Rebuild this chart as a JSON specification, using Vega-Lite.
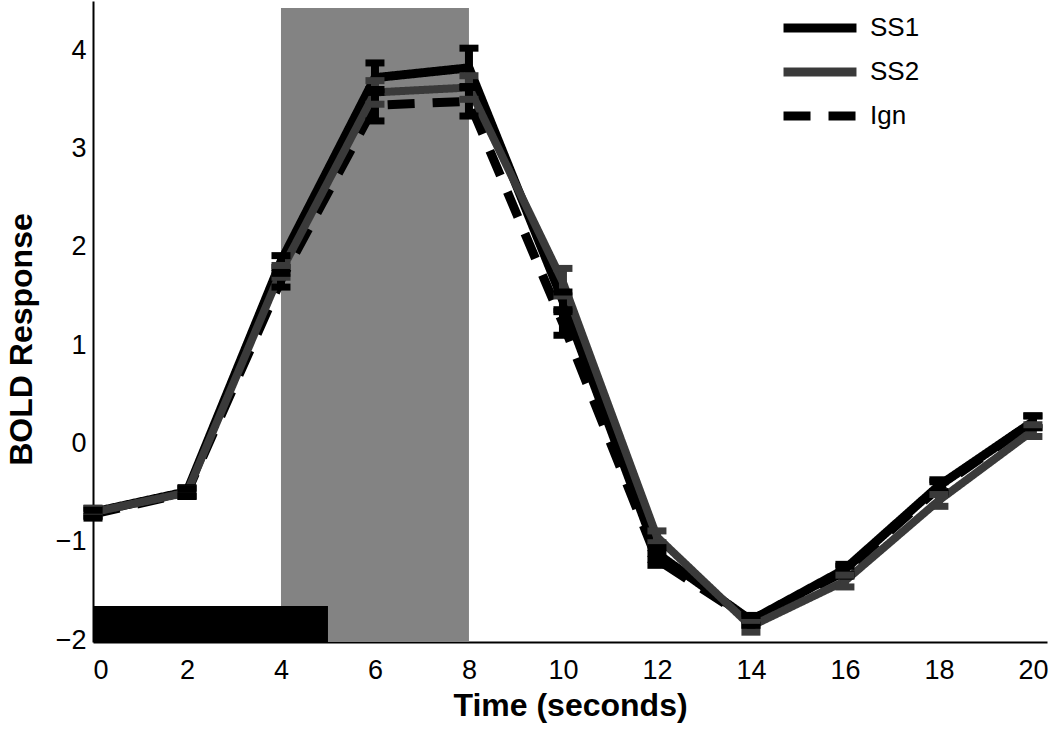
{
  "$schema": "https://vega.github.io/schema/vega-lite/v6.json",
  "width": 954,
  "height": 641,
  "autosize": "none",
  "padding": {"left": 93, "top": 1, "right": 3, "bottom": 103},
  "background": "white",
  "config": {
    "view": {"stroke": null},
    "font": "Liberation Sans",
    "axis": {"grid": false, "domainColor": "black", "domainWidth": 2, "ticks": false, "tickSize": 0, "labelColor": "black", "labelFont": "Liberation Sans", "labelFontSize": 27, "titleFont": "Liberation Sans", "titleFontSize": 32, "titleFontWeight": "bold", "titleColor": "black", "format": "d"}
  },
  "datasets": {
    "resp": [
      {"t": 0, "series": "SS1", "v": -0.70, "lo": -0.74, "hi": -0.66},
      {"t": 2, "series": "SS1", "v": -0.49, "lo": -0.53, "hi": -0.45},
      {"t": 4, "series": "SS1", "v": 1.85, "lo": 1.79, "hi": 1.91},
      {"t": 6, "series": "SS1", "v": 3.72, "lo": 3.57, "hi": 3.87},
      {"t": 8, "series": "SS1", "v": 3.82, "lo": 3.62, "hi": 4.02},
      {"t": 10, "series": "SS1", "v": 1.45, "lo": 1.36, "hi": 1.54},
      {"t": 12, "series": "SS1", "v": -1.12, "lo": -1.18, "hi": -1.06},
      {"t": 14, "series": "SS1", "v": -1.80, "lo": -1.85, "hi": -1.75},
      {"t": 16, "series": "SS1", "v": -1.28, "lo": -1.33, "hi": -1.23},
      {"t": 18, "series": "SS1", "v": -0.43, "lo": -0.49, "hi": -0.37},
      {"t": 20, "series": "SS1", "v": 0.22, "lo": 0.16, "hi": 0.28},
      {"t": 0, "series": "SS2", "v": -0.70, "lo": -0.74, "hi": -0.66},
      {"t": 2, "series": "SS2", "v": -0.50, "lo": -0.54, "hi": -0.46},
      {"t": 4, "series": "SS2", "v": 1.75, "lo": 1.69, "hi": 1.81},
      {"t": 6, "series": "SS2", "v": 3.57, "lo": 3.45, "hi": 3.69},
      {"t": 8, "series": "SS2", "v": 3.62, "lo": 3.50, "hi": 3.74},
      {"t": 10, "series": "SS2", "v": 1.64, "lo": 1.50, "hi": 1.78},
      {"t": 12, "series": "SS2", "v": -0.95, "lo": -1.01, "hi": -0.89},
      {"t": 14, "series": "SS2", "v": -1.86, "lo": -1.92, "hi": -1.80},
      {"t": 16, "series": "SS2", "v": -1.40, "lo": -1.46, "hi": -1.34},
      {"t": 18, "series": "SS2", "v": -0.58, "lo": -0.64, "hi": -0.52},
      {"t": 20, "series": "SS2", "v": 0.13, "lo": 0.07, "hi": 0.19},
      {"t": 0, "series": "Ign", "v": -0.72, "lo": -0.76, "hi": -0.68},
      {"t": 2, "series": "Ign", "v": -0.50, "lo": -0.54, "hi": -0.46},
      {"t": 4, "series": "Ign", "v": 1.66, "lo": 1.59, "hi": 1.73},
      {"t": 6, "series": "Ign", "v": 3.44, "lo": 3.28, "hi": 3.60},
      {"t": 8, "series": "Ign", "v": 3.48, "lo": 3.33, "hi": 3.63},
      {"t": 10, "series": "Ign", "v": 1.22, "lo": 1.10, "hi": 1.34},
      {"t": 12, "series": "Ign", "v": -1.18, "lo": -1.24, "hi": -1.12},
      {"t": 14, "series": "Ign", "v": -1.80, "lo": -1.85, "hi": -1.75},
      {"t": 16, "series": "Ign", "v": -1.30, "lo": -1.35, "hi": -1.25},
      {"t": 18, "series": "Ign", "v": -0.45, "lo": -0.51, "hi": -0.39},
      {"t": 20, "series": "Ign", "v": 0.22, "lo": 0.16, "hi": 0.28}
    ],
    "shade": [{"x1": 4, "x2": 8, "y1": -2.02, "y2": 4.43}],
    "stim": [{"x1": 0, "x2": 5, "y1": -2.02, "y2": -1.655}]
  },
  "layer": [
    {
      "data": {"name": "shade"},
      "mark": {"type": "rect", "color": "#838383"},
      "encoding": {
        "x": {"field": "x1", "type": "quantitative", "scale": {"domain": [0, 20.3], "nice": false, "zero": false},
              "axis": {"values": [0, 2, 4, 6, 8, 10, 12, 14, 16, 18, 20], "title": "Time (seconds)", "labelPadding": 15, "titleBaseline": "alphabetic", "titleY": 73}},
        "x2": {"field": "x2"},
        "y": {"field": "y1", "type": "quantitative", "scale": {"domain": [-2.02, 4.5], "nice": false, "zero": false},
              "axis": {"values": [-2, -1, 0, 1, 2, 3, 4], "title": "BOLD Response", "labelPadding": 7, "titleBaseline": "alphabetic", "titleX": -62, "titleY": 338}},
        "y2": {"field": "y2"}
      }
    },
    {
      "data": {"name": "resp"},
      "transform": [{"filter": "datum.series === 'Ign'"}],
      "mark": {"type": "line", "strokeWidth": 9, "strokeCap": "butt"},
      "encoding": {
        "x": {"field": "t", "type": "quantitative"},
        "y": {"field": "v", "type": "quantitative"},
        "color": {"field": "series", "type": "nominal", "scale": {"domain": ["SS1", "SS2", "Ign"], "range": ["#000000", "#3a3a3a", "#000000"]},
                  "legend": {"title": null, "orient": "none", "legendX": 714, "legendY": 14, "padding": 0, "symbolType": "M-5,0H5", "symbolSize": 213, "symbolStrokeWidth": 9, "labelFontSize": 26, "labelFont": "Liberation Sans", "labelColor": "black", "labelOffset": 37, "rowPadding": 8}},
        "strokeDash": {"field": "series", "type": "nominal", "scale": {"domain": ["SS1", "SS2", "Ign"], "range": [[1, 0], [1, 0], [27, 18]]}}
      }
    },
    {
      "data": {"name": "resp"},
      "transform": [{"filter": "datum.series === 'SS1'"}],
      "mark": {"type": "line", "strokeWidth": 9},
      "encoding": {
        "x": {"field": "t", "type": "quantitative"},
        "y": {"field": "v", "type": "quantitative"},
        "color": {"field": "series", "type": "nominal"},
        "strokeDash": {"field": "series", "type": "nominal"}
      }
    },
    {
      "data": {"name": "resp"},
      "transform": [{"filter": "datum.series === 'SS2'"}],
      "mark": {"type": "line", "strokeWidth": 8},
      "encoding": {
        "x": {"field": "t", "type": "quantitative"},
        "y": {"field": "v", "type": "quantitative"},
        "color": {"field": "series", "type": "nominal"},
        "strokeDash": {"field": "series", "type": "nominal"}
      }
    },
    {
      "data": {"name": "resp"},
      "mark": {"type": "rule", "strokeWidth": 8},
      "encoding": {
        "x": {"field": "t", "type": "quantitative"},
        "y": {"field": "lo", "type": "quantitative"},
        "y2": {"field": "hi"},
        "color": {"field": "series", "type": "nominal"}
      }
    },
    {
      "data": {"name": "resp"},
      "mark": {"type": "tick", "orient": "horizontal", "size": 19, "thickness": 7, "opacity": 1},
      "encoding": {
        "x": {"field": "t", "type": "quantitative"},
        "y": {"field": "lo", "type": "quantitative"},
        "color": {"field": "series", "type": "nominal"}
      }
    },
    {
      "data": {"name": "resp"},
      "mark": {"type": "tick", "orient": "horizontal", "size": 19, "thickness": 7, "opacity": 1},
      "encoding": {
        "x": {"field": "t", "type": "quantitative"},
        "y": {"field": "hi", "type": "quantitative"},
        "color": {"field": "series", "type": "nominal"}
      }
    },
    {
      "data": {"name": "stim"},
      "mark": {"type": "rect", "color": "black"},
      "encoding": {
        "x": {"field": "x1", "type": "quantitative"},
        "x2": {"field": "x2"},
        "y": {"field": "y1", "type": "quantitative"},
        "y2": {"field": "y2"}
      }
    }
  ]
}
